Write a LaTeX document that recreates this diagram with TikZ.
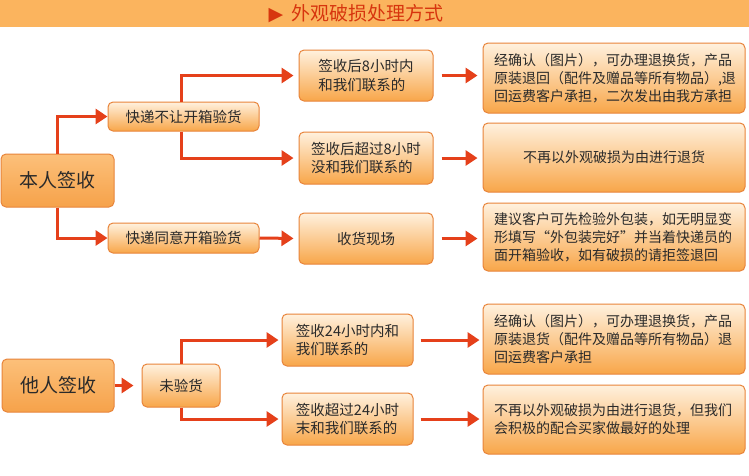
\documentclass[tikz,border=0pt]{standalone}
\usepackage{fontspec}
\setmainfont{Noto Sans CJK SC}
\newfontfamily\symfont{DejaVu Sans}
\usetikzlibrary{arrows.meta}
\definecolor{hdr}{HTML}{FBB45E}
\definecolor{ttl}{HTML}{D7350E}
\definecolor{arr}{HTML}{E5401A}
\definecolor{bord}{HTML}{E8843A}
\definecolor{txt}{HTML}{2A2A2A}
\definecolor{boxtop}{HTML}{FFF1DE}
\definecolor{boxbot}{HTML}{F8A649}
\definecolor{bigtop}{HTML}{FCC07A}
\definecolor{bigbot}{HTML}{F6A24A}
\tikzset{
  box/.style={draw=bord, line width=1pt, rounded corners=5pt, top color=boxtop, bottom color=boxbot,
    text=txt, font=\fontsize{14}{18}\selectfont, inner sep=0pt},
  midbox/.style={box, font=\fontsize{14.5}{18.5}\selectfont},
  bigbox/.style={draw=bord, line width=1pt, rounded corners=5pt, top color=bigtop, bottom color=bigbot,
    text=txt, font=\fontsize{19}{22}\selectfont, inner sep=0pt},
  wide/.style={box, text width=240pt, inner xsep=11pt, align=left, minimum width=262pt},
  conn/.style={arr, line width=3pt, -{Triangle[length=12pt,width=15pt]}},
}
\begin{document}
\begin{tikzpicture}[x=1pt,y=-1pt]
\useasboundingbox (0,0) rectangle (749,475);
\fill[white] (0,0) rectangle (749,475);
\fill[hdr] (0,0) rectangle (749,27);
\node[text=ttl, font=\fontsize{19}{22}\selectfont] (title) at (356,13.5) {{\symfont\fontsize{19}{22}\selectfont ▶}\hspace{8pt}外观破损处理方式};

% first group
\node[bigbox, minimum width=113pt, minimum height=53pt] (bq) at (57.5,180.5) {本人签收};
\node[midbox, minimum width=151pt, minimum height=29pt] (k1) at (183.5,116.5) {快递不让开箱验货};
\node[midbox, minimum width=151pt, minimum height=30pt] (k2) at (183.5,238) {快递同意开箱验货};
\node[midbox, minimum width=134pt, minimum height=51pt, align=left] (m1) at (366,75.5) {签收后8小时内\\和我们联系的};
\node[midbox, minimum width=134pt, minimum height=52pt, align=left] (m2) at (366,158) {签收后超过8小时\\没和我们联系的};
\node[midbox, minimum width=134pt, minimum height=51pt] (m3) at (366,238.5) {收货现场};
\node[wide, minimum height=70pt] (r1) at (614,78) {经确认（图片），可办理退换货，产品\\原装退回（配件及赠品等所有物品）,退\\回运费客户承担，二次发出由我方承担};
\node[wide, minimum height=69pt, align=center] (r2) at (614,157.5) {不再以外观破损为由进行退货};
\node[wide, minimum height=68pt] (r3) at (614,237) {建议客户可先检验外包装，如无明显变\\形填写“外包装完好”并当着快递员的\\面开箱验收，如有破损的请拒签退回};

% second group
\node[bigbox, minimum width=112pt, minimum height=53pt] (ta) at (58,385.5) {他人签收};
\node[midbox, minimum width=78pt, minimum height=43pt] (w) at (181,385.5) {未验货};
\node[midbox, minimum width=131pt, minimum height=52pt, align=left] (n1) at (347.5,340) {签收24小时内和\\我们联系的};
\node[midbox, minimum width=131pt, minimum height=52pt, align=left] (n2) at (347.5,419) {签收超过24小时\\末和我们联系的};
\node[wide, minimum height=70pt] (r4) at (614,339) {经确认（图片），可办理退换货，产品\\原装退货（配件及赠品等所有物品）退\\回运费客户承担};
\node[wide, minimum height=69pt] (r5) at (614,419.5) {不再以外观破损为由进行退货，但我们\\会积极的配合买家做最好的处理};

% connectors group 1
\draw[conn] (bq.north) |- (k1.west);
\draw[conn] (bq.south) |- (k2.west);
\draw[conn, shorten >=5pt] (k1.north -| 181,0) |- (m1.west);
\draw[conn, shorten >=5pt] (k1.south -| 181,0) |- (m2.west);
\draw[conn, shorten >=5pt] (k2.east) -- (m3.west);
\draw[conn, shorten <=8pt, shorten >=5pt] (m1.east) -- (r1.west |- m1.east);
\draw[conn, shorten <=8pt, shorten >=5pt] (m2.east) -- (r2.west |- m2.east);
\draw[conn, shorten <=8pt, shorten >=5pt] (m3.east) -- (r3.west |- m3.east);

% connectors group 2
\draw[conn, shorten >=8pt] (ta.east) -- (w.west);
\draw[conn, shorten >=3pt] (w.north) |- (n1.west);
\draw[conn, shorten >=3pt] (w.south) |- (n2.west);
\draw[conn, shorten <=7pt, shorten >=3pt] (n1.east) -- (r4.west |- n1.east);
\draw[conn, shorten <=7pt, shorten >=3pt] (n2.east) -- (r5.west |- n2.east);
\end{tikzpicture}
\end{document}
